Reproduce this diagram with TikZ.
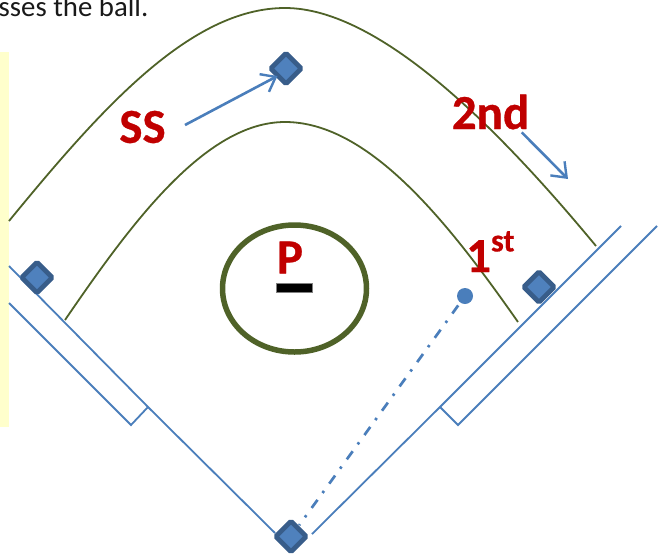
\documentclass[tikz,border=0pt]{standalone}
\usepackage{fontspec}
\setmainfont{Carlito}
\newfontfamily\labelfont[BoldFeatures={FakeBold=0.6}]{Carlito}
\usetikzlibrary{arrows.meta}
\definecolor{fieldblue}{HTML}{4A7EBB}
\definecolor{basefill}{HTML}{4F81BD}
\definecolor{baseedge}{HTML}{385D8A}
\definecolor{grass}{HTML}{4F6228}
\definecolor{labelred}{HTML}{C00000}
\definecolor{panel}{HTML}{FFFFCC}
\tikzset{
  base/.style={draw=baseedge,fill=basefill,line width=4.8pt,rounded corners=1.5pt,rotate=45,minimum size=21.5pt,inner sep=0pt,outer sep=0pt},
  fieldline/.style={draw=fieldblue,line width=1.8pt,line join=miter},
  arc/.style={draw=grass,line width=1.8pt},
  move/.style={draw=fieldblue,line width=2.6pt,-{Straight Barb[length=13pt,width=20pt,line width=2.4pt]}},
  player/.style={text=labelred,font=\labelfont\fontsize{49}{49}\selectfont\bfseries,inner sep=0pt},
}
\begin{document}
\begin{tikzpicture}[x=1pt,y=-1pt]
\useasboundingbox (0,0) rectangle (658,555);
\clip (0,0) rectangle (658,555);
\fill[panel] (0,52) rectangle (9,427);
\node[anchor=base west,inner sep=0pt,text=black!90,font=\fontsize{28.8}{28}\selectfont] (caption) at (-1.5,16) {sses the ball.};
% foul lines
\draw[fieldline] (9,266) -- (148,407) -- (275,533);
\draw[fieldline] (9,303) -- (131,425) -- (148,407);
\draw[fieldline] (312,534) -- (440,407) -- (621,226);
\draw[fieldline] (440,407) -- (458,425) -- (657,226);
% arcs
\draw[arc] (9,221) .. controls (100,110) and (190,8) .. (285,8) .. controls (380,8) and (500,130) .. (596,246);
\draw[arc] (65,320) .. controls (130,225) and (205,122) .. (285,122) .. controls (370,122) and (450,225) .. (518,322);
% mound
\draw[grass,line width=5.5pt] (294.5,288.5) ellipse [x radius=72, y radius=63.5];
\fill[black,draw=black!50,line width=.5pt] (276,283) rectangle (312.5,292);
% bases and runner
\node[circle,fill=fieldblue,minimum size=16pt,inner sep=0pt] (runner) at (465,296) {};
\node[base] (home) at (291,536.5) {};
\draw[fieldblue,line width=2.7pt,dash pattern=on 10pt off 9pt on 2.5pt off 8.5pt,dash phase=18.4pt,shorten >=14pt] (runner.center) -- (home.center);
\node[base] (second) at (286,68.5) {};
\node[base] (third) at (37,277.5) {};
\node[base] (first) at (539,287) {};
% labels
\node[player] (ss) at (142.5,127) {SS};
\node[player] (p) at (290,257.5) {P};
\node[player] (nd) at (490.5,112) {2nd};
\node[player,anchor=base west] (st) at (466,272) {1\raisebox{.42em}{\fontsize{32}{32}\selectfont st}};
% moves
\coordinate (ssa) at (185,125);
\coordinate (ssb) at (277.5,76);
\coordinate (nda) at (521.7,132.3);
\coordinate (ndb) at (568,179);
\draw[move] (ssa) -- (ssb);
\draw[move] (nda) -- (ndb);
\end{tikzpicture}
\end{document}
